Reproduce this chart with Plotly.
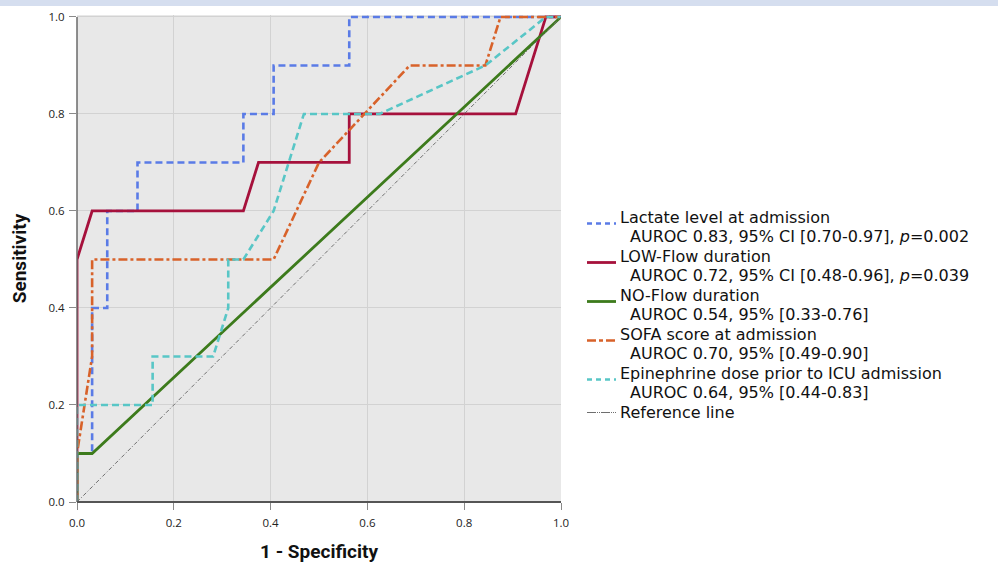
import plotly.graph_objects as go

# ---- data ----
lactate_x = [0, 0, 0.03125, 0.03125, 0.0625, 0.0625, 0.125, 0.125, 0.34375, 0.34375, 0.40625, 0.40625, 0.5625, 0.5625, 1.0]
lactate_y = [0, 0.1, 0.1, 0.4, 0.4, 0.6, 0.6, 0.7, 0.7, 0.8, 0.8, 0.9, 0.9, 1.0, 1.0]

lowflow_x = [0, 0, 0.03125, 0.34375, 0.375, 0.5625, 0.5625, 0.90625, 0.96875, 1.0]
lowflow_y = [0, 0.5, 0.6, 0.6, 0.7, 0.7, 0.8, 0.8, 1.0, 1.0]

noflow_x = [0, 0, 0.03125, 1.0]
noflow_y = [0, 0.1, 0.1, 1.0]

sofa_x = [0, 0, 0.03125, 0.03125, 0.40625, 0.5, 0.6875, 0.84375, 0.875, 1.0]
sofa_y = [0, 0.1, 0.3, 0.5, 0.5, 0.7, 0.9, 0.9, 1.0, 1.0]

epi_x = [0, 0, 0.15625, 0.15625, 0.28125, 0.3125, 0.3125, 0.34375, 0.40625, 0.46875, 0.625, 0.84375, 0.96875, 1.0]
epi_y = [0, 0.2, 0.2, 0.3, 0.3, 0.4, 0.5, 0.5, 0.6, 0.8, 0.8, 0.9, 1.0, 1.0]

ref_x = [0, 1]
ref_y = [0, 1]

series_names = [
    "Lactate level at admission",
    "LOW-Flow duration",
    "NO-Flow duration",
    "SOFA score at admission",
    "Epinephrine dose prior to ICU admission",
    "Reference line",
]
series_stats = [
    "AUROC 0.83, 95% CI [0.70-0.97], <i>p</i>=0.002",
    "AUROC 0.72, 95% CI [0.48-0.96], <i>p</i>=0.039",
    "AUROC 0.54, 95% [0.33-0.76]",
    "AUROC 0.70, 95% [0.49-0.90]",
    "AUROC 0.64, 95% [0.44-0.83]",
    None,
]

tick_vals = [0.0, 0.2, 0.4, 0.6, 0.8, 1.0]

styles = [
    ("#5a7be6", 2.6, "7px,4px", "5px,4px"),
    ("#a6113c", 2.8, "solid", "solid"),
    ("#3d7b1c", 2.8, "solid", "solid"),
    ("#d8622a", 2.6, "9px,3px,3px,3px", "9px,3px,4px,3px"),
    ("#58c6c6", 2.6, "7px,4px", "5px,4px"),
    ("#6e6e6e", 1.0, "4px,2px,1px,2px", "9px,1px,1px,1px,1px,1px"),
]
data_xy = [(lactate_x, lactate_y), (lowflow_x, lowflow_y), (noflow_x, noflow_y),
           (sofa_x, sofa_y), (epi_x, epi_y), (ref_x, ref_y)]

fig = go.Figure()
for (xs, ys), (col, w, dash, _), nm in zip(data_xy, styles, series_names):
    fig.add_trace(go.Scatter(
        x=xs, y=ys, mode="lines", name=nm,
        line=dict(color=col, width=w, dash=dash),
        cliponaxis=False, showlegend=False,
    ))

# ---- plot geometry (pixels) used for placing the custom legend ----
L, R, T, B = 77, 437, 15, 65
W, H = 998, 567
PW, PH = W - L - R, H - T - B


def px_x(px):
    return (px - L) / PW


def px_y(py):
    return (H - B - py) / PH


# custom legend (tight line spacing like the original)
leg_size = 16
inner_gap = 18.7
item_pitch = 39.0
leg_top = 217.5
leg_font = dict(family="DejaVu Sans", size=leg_size, color="#111111")
for i, (nm, st) in enumerate(zip(series_names, series_stats)):
    col, w, _, ldash = styles[i]
    y0 = leg_top + i * item_pitch
    sym_y = y0 + (6 if st is not None else 0)
    fig.add_shape(type="line", xref="paper", yref="paper",
                  x0=px_x(587), x1=px_x(616), y0=px_y(sym_y), y1=px_y(sym_y),
                  line=dict(color=col, width=w if i < 5 else 1.2, dash=ldash))
    fig.add_annotation(xref="paper", yref="paper", x=px_x(619), y=px_y(y0),
                       xanchor="left", yanchor="middle", text=nm,
                       showarrow=False, font=leg_font, borderpad=0)
    if st is not None:
        fig.add_annotation(xref="paper", yref="paper", x=px_x(629), y=px_y(y0 + inner_gap),
                           xanchor="left", yanchor="middle", text=st,
                           showarrow=False, font=leg_font, borderpad=0)

# light band at the very top
fig.add_shape(type="rect", xref="paper", yref="paper",
              x0=-0.2, x1=2.0, y0=px_y(6), y1=px_y(-5),
              fillcolor="#d5deef", line=dict(width=0), layer="below")

axis_common = dict(
    tickvals=tick_vals, tickformat=".1f",
    showgrid=True, gridcolor="#d2d2d2", gridwidth=1,
    ticks="outside", ticklen=7, tickcolor="#8a8a8a",
    tickfont=dict(family="Open Sans", size=11.5, color="#222222"),
    zeroline=False, showline=False, fixedrange=True, automargin=False,
)

fig.update_layout(
    width=W, height=H,
    margin=dict(l=L, r=R, t=T, b=B),
    paper_bgcolor="white", plot_bgcolor="#e8e8e8",
    xaxis=dict(**axis_common, range=[0, 1], ticklabelstandoff=3,
               title=dict(text="<b>1 - Specificity</b>", standoff=15,
                          font=dict(family="Roboto", size=19, color="#111111"))),
    yaxis=dict(**axis_common, range=[0, 1.004], ticklabelstandoff=2,
               title=dict(text="<b>Sensitivity</b>", standoff=16,
                          font=dict(family="Roboto", size=19, color="#111111"))),
    showlegend=False,
)

# axis lines (left thinner grey, bottom darker)
fig.add_shape(type="line", xref="paper", yref="paper", x0=0, x1=0, y0=0, y1=px_y(17),
              line=dict(color="#6a6a6a", width=1.5), layer="above")
fig.add_shape(type="line", xref="paper", yref="paper", x0=0, x1=1, y0=0, y1=0,
              line=dict(color="#555555", width=2), layer="above")

fig.write_html("out.html",
               config={"displayModeBar": False, "staticPlot": True},
               post_script="document.body.style.margin='0px';document.body.style.overflow='hidden';")
